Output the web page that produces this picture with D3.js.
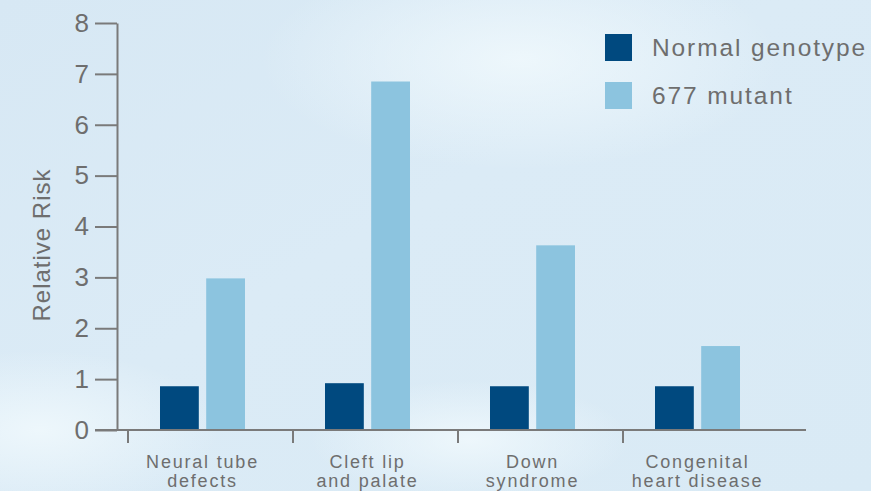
<!DOCTYPE html>
<html>
<head>
<meta charset="utf-8">
<script src="https://cdn.jsdelivr.net/npm/d3@7"></script>
<style>
  html, body { margin: 0; padding: 0; overflow: hidden; }
  svg { display: block; }
  text { font-family: "Liberation Sans", Arial, sans-serif; fill: #6e6e6e; }
</style>
</head>
<body>
<div id="chart"></div>
<script>
// Data
// ---------------------------------------------------------
const categories = [
    ["Neural tube", "defects"],
    ["Cleft lip", "and palate"],
    ["Down", "syndrome"],
    ["Congenital", "heart disease"]
];
const seriesNames = ["Normal genotype", "677 mutant"];
const normalValues = [0.86, 0.92, 0.86, 0.86];
const mutantValues = [2.98, 6.85, 3.63, 1.65];
const yTicks = [0, 1, 2, 3, 4, 5, 6, 7, 8];

const seriesColors = ["#00497f", "#8cc4df"];

let width = 871,
    height = 491;

let svg = d3.select("#chart").append("svg")
    .attr("width", width)
    .attr("height", height);

// Background
// ---------------------------------------------------------
let defs = svg.append("defs");

let bg = defs.append("linearGradient")
    .attr("id", "bg")
    .attr("x1", 0).attr("y1", 0)
    .attr("x2", 1).attr("y2", 1);
bg.append("stop").attr("offset", "0%").attr("stop-color", "#d7e8f4");
bg.append("stop").attr("offset", "45%").attr("stop-color", "#dbebf6");
bg.append("stop").attr("offset", "100%").attr("stop-color", "#d9eaf5");

let glow = defs.append("radialGradient").attr("id", "glow");
glow.append("stop").attr("offset", "0%").attr("stop-color", "#f2fafd").attr("stop-opacity", 0.8);
glow.append("stop").attr("offset", "100%").attr("stop-color", "#f2fafd").attr("stop-opacity", 0);

svg.append("rect")
    .attr("width", width)
    .attr("height", height)
    .attr("fill", "url(#bg)");

// soft light patches like in the photo background
svg.append("ellipse")
    .attr("cx", 520).attr("cy", 60).attr("rx", 260).attr("ry", 110)
    .attr("fill", "url(#glow)");
svg.append("ellipse")
    .attr("cx", 40).attr("cy", 430).attr("rx", 180).attr("ry", 80)
    .attr("fill", "url(#glow)");
svg.append("ellipse")
    .attr("cx", 470).attr("cy", 440).attr("rx", 160).attr("ry", 60)
    .attr("fill", "url(#glow)");

// Scales
// ---------------------------------------------------------
let y = d3.scaleLinear()
    .domain([0, 8])
    .range([430, 23]);

let x0 = d3.scaleBand()
    .domain(d3.range(categories.length))
    .range([120, 780]);

let x1 = d3.scaleBand()
    .domain(d3.range(seriesNames.length))
    .range([0, 85])
    .paddingInner(0.16);

let data = categories.map((c, i) => [normalValues[i], mutantValues[i]]);

// Y axis
// ---------------------------------------------------------
let yAxis = svg.append("g")
    .attr("transform", "translate(117,0)")
    .call(d3.axisLeft(y).tickValues(yTicks).tickSize(22).tickSizeOuter(0).tickPadding(6));

yAxis.selectAll("path, line")
    .attr("stroke", "#7a7a7a")
    .attr("stroke-width", 2);
yAxis.selectAll("text")
    .attr("font-family", "Lato, Roboto, 'Liberation Sans', sans-serif")
    .attr("font-weight", 300)
    .attr("font-size", 26)
    .attr("fill", "#6a6a6a");

svg.append("text")
    .attr("transform", "translate(50,245) rotate(-90)")
    .attr("text-anchor", "middle")
    .attr("font-size", 24)
    .attr("letter-spacing", 1)
    .text("Relative Risk");

// Bars
// ---------------------------------------------------------
let groups = svg.selectAll(".group")
    .data(data)
    .enter()
    .append("g")
    .attr("class", "group")
    .attr("transform", (d, i) => `translate(${x0(i) + x0.bandwidth() / 2 - 42.5},0)`);

groups.selectAll("rect")
    .data(d => d)
    .enter()
    .append("rect")
    .attr("x", (d, j) => x1(j))
    .attr("y", d => y(d))
    .attr("width", x1.bandwidth())
    .attr("height", d => y(0) - y(d))
    .attr("fill", (d, j) => seriesColors[j]);

// X axis
// ---------------------------------------------------------
svg.append("line")
    .attr("x1", 95)
    .attr("x2", 806)
    .attr("y1", y(0))
    .attr("y2", y(0))
    .attr("stroke", "#7a7a7a")
    .attr("stroke-width", 2);

svg.selectAll(".xTick")
    .data(categories)
    .enter()
    .append("line")
    .attr("class", "xTick")
    .attr("x1", (d, i) => x0(i) + 8)
    .attr("x2", (d, i) => x0(i) + 8)
    .attr("y1", y(0))
    .attr("y2", y(0) + 13)
    .attr("stroke", "#7a7a7a")
    .attr("stroke-width", 2);

let xLabels = svg.selectAll(".xLabel")
    .data(categories)
    .enter()
    .append("text")
    .attr("class", "xLabel")
    .attr("text-anchor", "middle")
    .attr("font-size", 18)
    .attr("letter-spacing", 1.8)
    .attr("transform", (d, i) => `translate(${x0(i) + x0.bandwidth() / 2},468)`);

xLabels.selectAll("tspan")
    .data(d => d)
    .enter()
    .append("tspan")
    .attr("x", 0)
    .attr("y", (d, k) => k * 19)
    .text(d => d);

// Legend
// ---------------------------------------------------------
let legend = svg.append("g")
    .attr("transform", "translate(605,34)");

let legendItems = legend.selectAll(".legendItem")
    .data(seriesNames)
    .enter()
    .append("g")
    .attr("class", "legendItem")
    .attr("transform", (d, i) => `translate(0,${i * 48})`);

legendItems.append("rect")
    .attr("width", 27)
    .attr("height", 27)
    .attr("fill", (d, i) => seriesColors[i]);

legendItems.append("text")
    .attr("x", 47)
    .attr("y", 22)
    .attr("font-size", 24.5)
    .attr("letter-spacing", 1.9)
    .text(d => d);
</script>
</body>
</html>
